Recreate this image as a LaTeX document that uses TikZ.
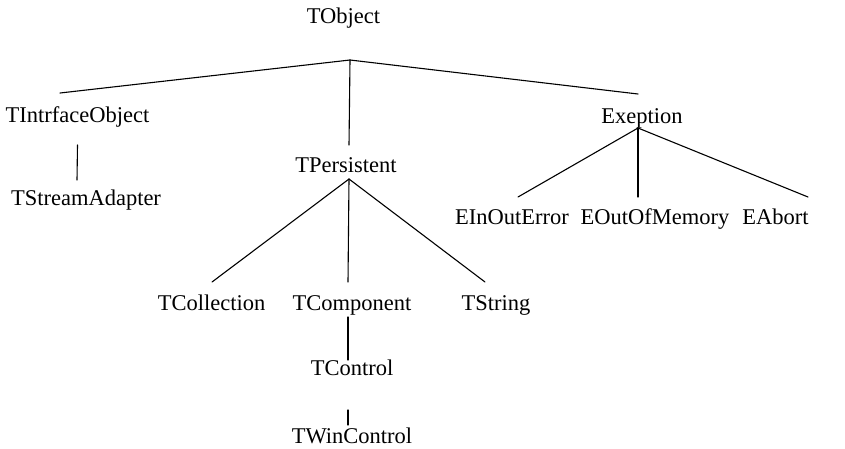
\documentclass[tikz,border=0pt]{standalone}
\usepackage{fontspec}
\setmainfont{Liberation Serif}
\begin{document}
\begin{tikzpicture}[x=1pt,y=-1pt,
  cls/.style={anchor=base,inner sep=0pt,font=\fontsize{22.5}{27}\selectfont},
  edge/.style={line width=1.1pt,line cap=round}]
\fill[white] (0,0) rectangle (845,448);
\useasboundingbox (0,0) rectangle (845,448);

% class names (placed by their baselines)
\node[cls] (tobject) at (343.5,23)  {TObject};
\node[cls] (tintrf)  at (77.5,122)  {TIntrfaceObject};
\node[cls] (tstream) at (86,205)    {TStreamAdapter};
\node[cls] (tpers)   at (346,172)   {TPersistent};
\node[cls] (exep)    at (642,123)   {Exeption};
\node[cls] (einout)  at (512,224)   {EInOutError};
\node[cls] (eoutof)  at (655,224)   {EOutOfMemory};
\node[cls] (eabort)  at (775.5,224) {EAbort};
\node[cls] (tcoll)   at (211.5,310) {TCollection};
\node[cls] (tcomp)   at (352,310)   {TComponent};
\node[cls] (tstring) at (496,310)   {TString};
\node[cls] (tcontrol) at (352,375)  {TControl};
\node[cls] (twin)    at (352,443)   {TWinControl};

% branching points
\coordinate (j0) at (350,60);
\coordinate (j1) at ([shift={(-4pt,-5pt)}]exep.base);
\coordinate (j2) at ([shift={(3pt,-7pt)}]tpers.base);

% TObject descendants
\draw[edge] (j0) -- ([shift={(-17.5pt,29pt)}]tintrf.base);
\draw[edge] (j0) -- ([shift={(3pt,27pt)}]tpers.base);
\draw[edge] (j0) -- ([shift={(-4pt,29pt)}]exep.base);

% TIntrfaceObject -> TStreamAdapter
\draw[edge] ([shift={(0pt,-23pt)}]tintrf.base) -- ([shift={(-9pt,25pt)}]tstream.base);

% Exeption descendants
\draw[edge] (j1) -- ([shift={(6pt,27pt)}]einout.base);
\draw[edge] (j1) -- ([shift={(-17pt,27pt)}]eoutof.base);
\draw[edge] (j1) -- ([shift={(32.5pt,27pt)}]eabort.base);

% TPersistent descendants
\draw[edge] (j2) -- ([shift={(0.5pt,28pt)}]tcoll.base);
\draw[edge] (j2) -- ([shift={(-4pt,28pt)}]tcomp.base);
\draw[edge] (j2) -- ([shift={(-11pt,28pt)}]tstring.base);

% TComponent -> TControl -> TWinControl
\draw[edge] ([shift={(-4pt,-7pt)}]tcomp.base) -- ([shift={(-4pt,15pt)}]tcontrol.base);
\draw[edge] ([shift={(-4pt,-35pt)}]tcontrol.base) -- ([shift={(-4pt,18pt)}]twin.base);
\end{tikzpicture}
\end{document}
